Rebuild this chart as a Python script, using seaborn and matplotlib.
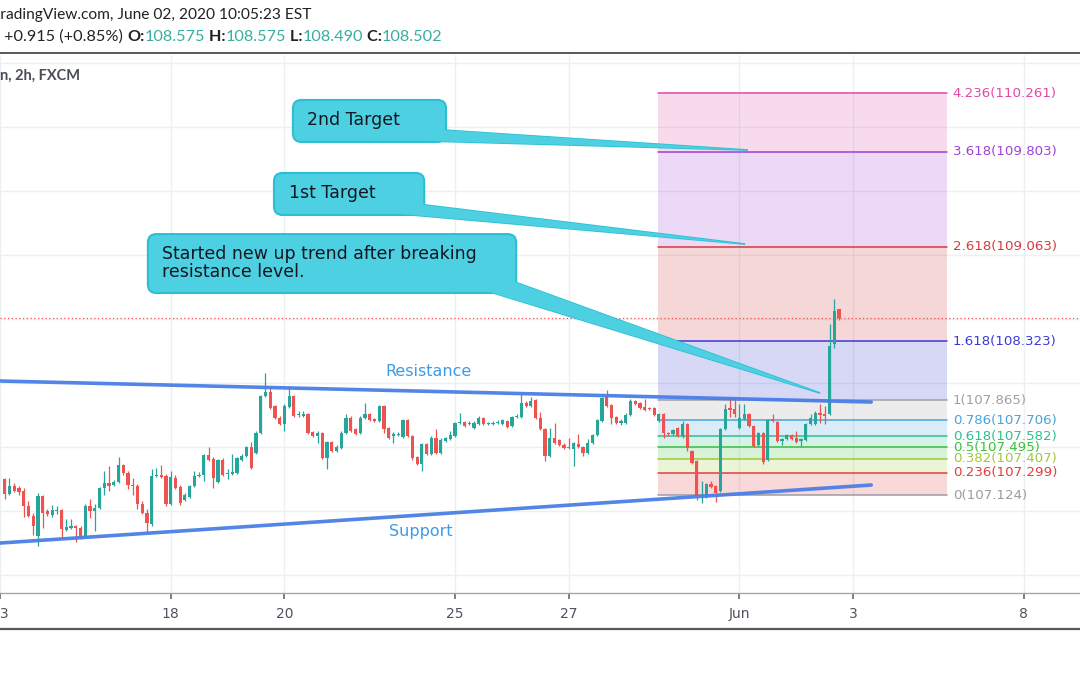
import numpy as np
import pandas as pd
import matplotlib
matplotlib.use("Agg")
import matplotlib.pyplot as plt
from matplotlib.patches import FancyBboxPatch, Polygon
from matplotlib.lines import Line2D
import seaborn as sns

# ---------------- data ----------------
opens = [
    107.252, 107.135, 107.197, 107.181, 107.158, 107.041, 106.963, 106.807, 107.119, 107.002,
    106.971, 107.002, 107.010, 106.854, 106.869, 106.885, 106.869, 106.807, 107.041, 107.002,
    107.025, 107.181, 107.220, 107.205, 107.228, 107.361, 107.298, 107.205, 107.197, 107.057,
    106.986, 106.901, 107.275, 107.283, 107.275, 107.057, 107.259, 107.189, 107.088, 107.111,
    107.197, 107.275, 107.283, 107.439, 107.408, 107.228, 107.400, 107.291, 107.291, 107.298,
    107.400, 107.431, 107.501, 107.454, 107.610, 107.899, 107.930, 107.821, 107.727, 107.681,
    107.813, 107.899, 107.751, 107.743, 107.759, 107.618, 107.587, 107.610, 107.415, 107.540,
    107.470, 107.493, 107.610, 107.727, 107.642, 107.610, 107.727, 107.759, 107.720, 107.704,
    107.821, 107.649, 107.587, 107.595, 107.579, 107.712, 107.587, 107.423, 107.369, 107.525,
    107.447, 107.571, 107.454, 107.548, 107.564, 107.587, 107.688, 107.696, 107.681, 107.649,
    107.681, 107.727, 107.681, 107.681, 107.688, 107.681, 107.704, 107.665, 107.735, 107.735,
    107.844, 107.821, 107.868, 107.727, 107.642, 107.431, 107.571, 107.556, 107.517, 107.501,
    107.486, 107.525, 107.501, 107.454, 107.532, 107.595, 107.704, 107.891, 107.829, 107.735,
    107.688, 107.688, 107.751, 107.860, 107.844, 107.813, 107.805, 107.805, 107.704, 107.759,
    107.610, 107.603, 107.649, 107.587, 107.681, 107.470, 107.392, 107.119, 107.111, 107.213,
    107.197, 107.158, 107.642, 107.805, 107.798, 107.649, 107.720, 107.759, 107.665, 107.517,
    107.610, 107.400, 107.720, 107.696, 107.548, 107.564, 107.595, 107.571, 107.548, 107.556,
    107.681, 107.681, 107.766, 107.759, 107.759, 108.305, 108.575,
]
highs = [
    107.259, 107.259, 107.220, 107.197, 107.181, 107.080, 106.986, 107.142, 107.127, 107.018,
    107.049, 107.041, 107.018, 106.940, 106.940, 106.893, 106.885, 107.057, 107.096, 107.057,
    107.189, 107.314, 107.353, 107.244, 107.423, 107.369, 107.314, 107.259, 107.213, 107.080,
    107.018, 107.330, 107.337, 107.361, 107.291, 107.314, 107.283, 107.205, 107.142, 107.205,
    107.314, 107.306, 107.447, 107.501, 107.423, 107.408, 107.415, 107.330, 107.447, 107.423,
    107.447, 107.509, 107.540, 107.626, 107.907, 108.078, 107.977, 107.829, 107.743, 107.837,
    107.977, 107.907, 107.782, 107.782, 107.766, 107.626, 107.626, 107.618, 107.548, 107.548,
    107.517, 107.626, 107.759, 107.743, 107.649, 107.743, 107.844, 107.766, 107.727, 107.829,
    107.829, 107.657, 107.618, 107.618, 107.720, 107.720, 107.595, 107.431, 107.532, 107.532,
    107.587, 107.642, 107.571, 107.579, 107.626, 107.696, 107.766, 107.704, 107.704, 107.704,
    107.743, 107.735, 107.696, 107.704, 107.712, 107.720, 107.712, 107.743, 107.759, 107.915,
    107.860, 107.891, 107.876, 107.774, 107.649, 107.649, 107.688, 107.564, 107.532, 107.571,
    107.540, 107.603, 107.509, 107.564, 107.603, 107.720, 107.891, 107.946, 107.837, 107.743,
    107.720, 107.766, 107.876, 107.868, 107.852, 107.876, 107.813, 107.813, 107.766, 107.766,
    107.618, 107.642, 107.657, 107.704, 107.688, 107.478, 107.400, 107.236, 107.220, 107.236,
    107.205, 107.649, 107.837, 107.883, 107.883, 107.837, 107.837, 107.766, 107.673, 107.618,
    107.618, 107.720, 107.759, 107.704, 107.571, 107.603, 107.603, 107.626, 107.571, 107.688,
    107.759, 107.782, 107.837, 107.821, 108.461, 108.656, 108.575,
]
lows = [
    107.096, 107.127, 107.150, 107.127, 106.955, 106.955, 106.815, 106.729, 106.869, 106.963,
    106.955, 106.979, 106.799, 106.846, 106.862, 106.760, 106.784, 106.799, 106.947, 106.846,
    107.018, 107.127, 107.158, 107.197, 107.220, 107.283, 107.174, 107.127, 107.018, 106.979,
    106.830, 106.885, 107.267, 107.259, 107.041, 107.049, 107.174, 107.049, 107.080, 107.103,
    107.189, 107.267, 107.236, 107.392, 107.181, 107.220, 107.275, 107.252, 107.283, 107.291,
    107.392, 107.423, 107.330, 107.447, 107.603, 107.891, 107.798, 107.720, 107.673, 107.626,
    107.805, 107.735, 107.735, 107.735, 107.603, 107.579, 107.532, 107.408, 107.330, 107.462,
    107.462, 107.486, 107.603, 107.618, 107.595, 107.603, 107.720, 107.704, 107.696, 107.696,
    107.610, 107.564, 107.532, 107.587, 107.571, 107.579, 107.400, 107.361, 107.314, 107.439,
    107.439, 107.447, 107.447, 107.540, 107.556, 107.579, 107.681, 107.657, 107.673, 107.642,
    107.673, 107.673, 107.673, 107.673, 107.681, 107.673, 107.649, 107.657, 107.727, 107.727,
    107.813, 107.813, 107.720, 107.634, 107.392, 107.423, 107.525, 107.509, 107.486, 107.486,
    107.353, 107.493, 107.431, 107.447, 107.525, 107.587, 107.696, 107.813, 107.681, 107.681,
    107.673, 107.681, 107.743, 107.829, 107.798, 107.782, 107.790, 107.743, 107.696, 107.571,
    107.587, 107.595, 107.579, 107.571, 107.470, 107.369, 107.088, 107.064, 107.103, 107.181,
    107.072, 107.150, 107.634, 107.735, 107.735, 107.642, 107.712, 107.657, 107.501, 107.509,
    107.369, 107.392, 107.696, 107.540, 107.517, 107.556, 107.556, 107.532, 107.509, 107.548,
    107.673, 107.673, 107.688, 107.681, 107.751, 108.273, 108.490,
]
closes = [
    107.135, 107.197, 107.158, 107.150, 107.041, 106.963, 106.885, 107.119, 106.986, 106.979,
    107.010, 107.010, 106.862, 106.877, 106.885, 106.869, 106.799, 107.041, 107.002, 107.025,
    107.181, 107.220, 107.197, 107.228, 107.361, 107.298, 107.205, 107.197, 107.057, 106.986,
    106.908, 107.275, 107.283, 107.267, 107.057, 107.267, 107.181, 107.064, 107.127, 107.197,
    107.275, 107.283, 107.439, 107.400, 107.259, 107.400, 107.283, 107.298, 107.306, 107.415,
    107.431, 107.501, 107.337, 107.610, 107.899, 107.930, 107.805, 107.727, 107.681, 107.821,
    107.899, 107.743, 107.759, 107.759, 107.610, 107.587, 107.610, 107.415, 107.540, 107.470,
    107.501, 107.610, 107.727, 107.626, 107.603, 107.727, 107.759, 107.712, 107.704, 107.821,
    107.642, 107.571, 107.603, 107.603, 107.712, 107.587, 107.415, 107.369, 107.525, 107.447,
    107.571, 107.454, 107.556, 107.571, 107.595, 107.688, 107.696, 107.665, 107.688, 107.688,
    107.727, 107.681, 107.688, 107.688, 107.696, 107.712, 107.657, 107.735, 107.743, 107.844,
    107.821, 107.860, 107.727, 107.642, 107.431, 107.571, 107.532, 107.517, 107.493, 107.493,
    107.532, 107.501, 107.454, 107.532, 107.595, 107.712, 107.883, 107.821, 107.727, 107.688,
    107.704, 107.751, 107.860, 107.837, 107.805, 107.790, 107.798, 107.751, 107.759, 107.610,
    107.603, 107.634, 107.587, 107.681, 107.493, 107.376, 107.119, 107.127, 107.213, 107.189,
    107.142, 107.642, 107.798, 107.790, 107.759, 107.727, 107.759, 107.665, 107.509, 107.610,
    107.384, 107.712, 107.704, 107.548, 107.564, 107.595, 107.564, 107.540, 107.564, 107.681,
    107.727, 107.766, 107.751, 107.743, 108.289, 108.562, 108.502,
]

tick_pos = [-1, 35, 59, 95, 119, 155, 179, 215]
tick_labels = ["13", "18", "20", "25", "27", "Jun", "3", "8"]
price_grid = [106.5, 107.0, 107.5, 108.0, 108.5, 109.0, 109.5, 110.0, 110.5]

fib_level_labels = ["0", "0.236", "0.382", "0.5", "0.618", "0.786", "1",
                    "1.618", "2.618", "3.618", "4.236"]
fib_prices = [107.124, 107.299, 107.407, 107.495, 107.582, 107.706, 107.865,
              108.323, 109.063, 109.803, 110.261]
fib_colors = ["#9b9ba3", "#e0403c", "#9fc93a", "#3cbf3c", "#2fbf8e", "#4aa3d8",
              "#a0a0a6", "#3a3ad6", "#d63a3a", "#a040d8", "#e048a8"]
fib_x = [137.8, 198.8]
fib_label_x = 200.0

resistance_x = [-1.0, 182.8]
resistance_y = [108.014, 107.850]
support_x = [-1.0, 182.8]
support_y = [106.749, 107.202]

last_open, last_high, last_low, last_close = 108.575, 108.575, 108.490, 108.502
change_text = "+0.915 (+0.85%)"

callout_texts = ["2nd Target", "1st Target",
                 "Started new up trend after breaking\nresistance level."]
callout_boxes = [(60.8, 109.880, 93.1, 110.208),
                 (56.8, 109.310, 88.5, 109.638),
                 (30.2, 108.701, 107.9, 109.161)]
callout_text_pos = [(63.8, 110.051), (60.0, 109.482), (33.2, 108.936)]
callout_tails = [[(91.8, 109.975), (156.8, 109.817), (89.7, 109.887)],
                 [(87.2, 109.395), (156.2, 109.083), (83.4, 109.318)],
                 [(107.0, 108.795), (172.0, 107.920), (102.4, 108.709)]]

# ---------------- styling ----------------
sns.set_theme(style="white")
plt.rcParams["font.family"] = ["DejaVu Sans"]

W, H = 1080, 675
GREEN = "#26a69a"
RED = "#ef5350"
GRID = "#eaf0f4"
CYAN = "#4dd0e1"
CYAN_EDGE = "#2cbfd4"
TREND = "#4a7fe6"
LABEL_BLUE = "#3d9be9"

fig = plt.figure(figsize=(W / 100, H / 100), dpi=100)
ax = fig.add_axes([0, (H - 593) / H, 1, (593 - 55) / H])
ax.set_xlim(-1.0, -1.0 + W / 4.74)
ax.set_ylim(106.359, 110.559)
ax.set_facecolor("white")

# grid
for p in price_grid:
    ax.axhline(p, color=GRID, lw=1.0, zorder=0)
for t in tick_pos:
    ax.axvline(t, color=GRID, lw=1.0, zorder=0)

# fib retracement / extension
for j in range(len(fib_prices)):
    ax.plot(fib_x, [fib_prices[j]] * 2, color=fib_colors[j], lw=1.1, zorder=2)
    if j + 1 < len(fib_prices):
        ax.fill_between(fib_x, fib_prices[j], fib_prices[j + 1],
                        color=fib_colors[j + 1], alpha=0.2, lw=0, zorder=1)
    ax.text(fib_label_x, fib_prices[j], f"{fib_level_labels[j]}({fib_prices[j]:.3f})",
            color=fib_colors[j], fontsize=9.6, va="center", ha="left", zorder=3)

# current price dotted line
ax.axhline(last_close, color=RED, lw=0.9, ls=(0, (1, 2)), zorder=2)

# candles
df = pd.DataFrame({"o": opens, "h": highs, "l": lows, "c": closes})
df["i"] = np.arange(len(df))
up = df["c"] >= df["o"]
cols = np.where(up, GREEN, RED)
ax.vlines(df["i"], df["l"], df["h"], colors=cols, lw=0.9, zorder=4)
ax.bar(df["i"], np.maximum((df["c"] - df["o"]).abs(), 0.008),
       bottom=np.minimum(df["o"], df["c"]), width=0.68, color=cols, lw=0, zorder=5)

# trend lines
sns.lineplot(x=resistance_x, y=resistance_y, ax=ax, color=TREND, lw=2.6,
             alpha=0.95, zorder=6, legend=False)
sns.lineplot(x=support_x, y=support_y, ax=ax, color=TREND, lw=2.6,
             alpha=0.95, zorder=6, legend=False)
ax.text(89.3, 108.092, "Resistance", color=LABEL_BLUE, fontsize=11.5,
        ha="center", va="center", zorder=7)
ax.text(87.8, 106.843, "Support", color=LABEL_BLUE, fontsize=11.5,
        ha="center", va="center", zorder=7)

# callouts
ax_w_px = W
ax_h_px = 593 - 55
px_x = ax_w_px / (ax.get_xlim()[1] - ax.get_xlim()[0])
px_y = ax_h_px / (ax.get_ylim()[1] - ax.get_ylim()[0])
asp = px_x / px_y
for txt, (x0, y0, x1, y1), (tx, ty), tail in zip(callout_texts, callout_boxes,
                                                 callout_text_pos, callout_tails):
    ax.add_patch(Polygon(tail, closed=True, facecolor=CYAN, edgecolor=CYAN_EDGE,
                         lw=1.2, zorder=8))
    ax.add_patch(FancyBboxPatch((x0, y0), x1 - x0, y1 - y0,
                                boxstyle="round,pad=0,rounding_size=1.8",
                                mutation_aspect=asp, facecolor=CYAN,
                                edgecolor=CYAN_EDGE, lw=1.5, zorder=9))
    ax.add_patch(Polygon(tail, closed=True, facecolor=CYAN, edgecolor="none",
                         lw=0, zorder=10))
    ax.text(tx, ty, txt, fontsize=12.5, color="#131722", ha="left", va="center",
            linespacing=1.05, zorder=11)

# axes cosmetics
for s in ["top", "left", "right"]:
    ax.spines[s].set_visible(False)
ax.spines["bottom"].set_color("#a3a6af")
ax.spines["bottom"].set_linewidth(1.0)
ax.set_yticks([])
ax.set_xticks(tick_pos)
ax.set_xticklabels(tick_labels)
ax.tick_params(axis="x", length=4, color="#6a6d78", labelsize=10,
               labelcolor="#50535e", pad=6, bottom=True)
ax.set_xlabel("")
ax.set_ylabel("")

# header and frame lines
fig.add_artist(Line2D([0, 1], [1 - 53 / H, 1 - 53 / H], transform=fig.transFigure,
                      color="#55585f", lw=1.4))
fig.add_artist(Line2D([0, 1], [1 - 629 / H, 1 - 629 / H], transform=fig.transFigure,
                      color="#55585f", lw=1.6))

HF = ["Lato", "DejaVu Sans"]
fig.text(-9 / W, 1 - 15 / H, "TradingView.com, June 02, 2020 10:05:23 EST",
         fontsize=11.2, family=HF, color="#222222", va="center", ha="left")

renderer = fig.canvas.get_renderer()
pieces = [(change_text + " ", "#222222", "normal"),
          ("O:", "#222222", "bold"), (f"{last_open:.3f}", "#3aada0", "normal"),
          (" H:", "#222222", "bold"), (f"{last_high:.3f}", "#3aada0", "normal"),
          (" L:", "#222222", "bold"), (f"{last_low:.3f}", "#3aada0", "normal"),
          (" C:", "#222222", "bold"), (f"{last_close:.3f}", "#3aada0", "normal")]
xcur = 4
for s, c, wgt in pieces:
    t = fig.text(xcur / W, 1 - 37 / H, s, fontsize=11.7, family=HF, color=c,
                 fontweight=wgt, va="center", ha="left")
    bb = t.get_window_extent(renderer)
    xcur += bb.width

fig.text(0, 1 - 76 / H, "n, 2h, FXCM", fontsize=10.5, family=HF, color="#4a4d55",
         fontweight="bold", va="center", ha="left")

fig.savefig("out.png", dpi=100)
